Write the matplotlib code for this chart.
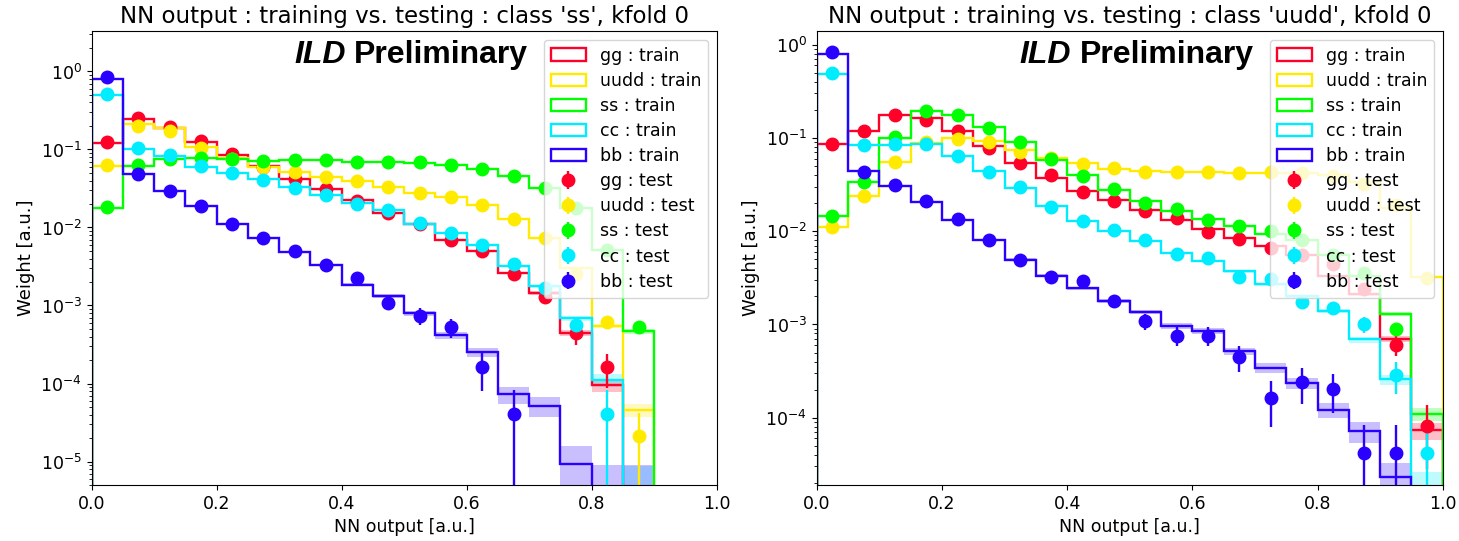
import numpy as np
import matplotlib
matplotlib.use('Agg')
import matplotlib.pyplot as plt

nan = np.nan
edges = np.linspace(0.0, 1.0, 21)
centers = 0.5 * (edges[:-1] + edges[1:])
classes = ['gg', 'uudd', 'ss', 'cc', 'bb']

# ---------------- left panel: class 'ss' ----------------
gg_train_L = [0.122, 0.243, 0.188, 0.124, 0.085, 0.062, 0.042, 0.031, 0.0226, 0.0155, 0.0112, 0.0069, 0.0050, 0.0026, 0.00145, 0.00044, 9.5e-5, 0, 0, 0]
gg_test_L = [0.125, 0.25, 0.195, 0.128, 0.087, 0.060, 0.042, 0.031, 0.022, 0.0152, 0.0110, 0.0069, 0.0050, 0.0025, 0.0013, 0.00044, 0.000164, nan, nan, nan]
uudd_train_L = [0.062, 0.209, 0.186, 0.107, 0.078, 0.060, 0.051, 0.045, 0.040, 0.033, 0.028, 0.0243, 0.0193, 0.0128, 0.0074, 0.0030, 0.00055, 4.6e-5, 0, 0]
uudd_test_L = [0.063, 0.200, 0.175, 0.105, 0.076, 0.059, 0.051, 0.045, 0.040, 0.033, 0.028, 0.0243, 0.0193, 0.0128, 0.0074, 0.0025, 0.00062, 2.1e-5, nan, nan]
ss_train_L = [0.018, 0.062, 0.076, 0.077, 0.0756, 0.072, 0.0734, 0.0734, 0.0698, 0.0686, 0.0675, 0.064, 0.056, 0.046, 0.0320, 0.0177, 0.0052, 0.00047, 0, 0]
ss_test_L = [0.0184, 0.064, 0.075, 0.077, 0.0756, 0.072, 0.0734, 0.0734, 0.0698, 0.0686, 0.0686, 0.064, 0.056, 0.046, 0.0317, 0.0177, 0.0052, 0.00053, nan, nan]
cc_train_L = [0.495, 0.102, 0.083, 0.060, 0.050, 0.042, 0.033, 0.0262, 0.0203, 0.0168, 0.0112, 0.0086, 0.0059, 0.0032, 0.00176, 0.00069, 0.00011, 4.6e-6, 0, 0]
cc_test_L = [0.51, 0.104, 0.086, 0.061, 0.0505, 0.041, 0.032, 0.026, 0.020, 0.0168, 0.0113, 0.0086, 0.0060, 0.0034, 0.00168, 0.00057, 4.1e-5, nan, nan, nan]
bb_train_L = [0.81, 0.048, 0.029, 0.019, 0.0112, 0.0074, 0.0049, 0.0033, 0.00185, 0.00131, 0.00079, 0.00042, 0.00025, 7.3e-5, 5.2e-5, 9.3e-6, 4.6e-6, 4.6e-6, 0, 0]
bb_test_L = [0.85, 0.048, 0.029, 0.019, 0.0112, 0.0074, 0.0050, 0.0033, 0.00226, 0.00108, 0.00074, 0.00053, 0.000164, 4.1e-5, nan, nan, nan, nan, nan, nan]

# ---------------- right panel: class 'uudd' ----------------
gg_train_R = [0.0863, 0.118, 0.175, 0.164, 0.120, 0.0813, 0.054, 0.0373, 0.0268, 0.0218, 0.0170, 0.0133, 0.0106, 0.0085, 0.0069, 0.0055, 0.0033, 0.0021, 0.0007, 7.3e-5]
gg_test_R = [0.0863, 0.120, 0.175, 0.157, 0.120, 0.078, 0.054, 0.0398, 0.026, 0.0212, 0.0164, 0.0139, 0.0097, 0.0083, 0.0066, 0.0055, 0.0045, 0.0024, 0.0006, 8.2e-5]
uudd_train_R = [0.0111, 0.0237, 0.0548, 0.0883, 0.100, 0.0926, 0.075, 0.061, 0.054, 0.0465, 0.0439, 0.043, 0.043, 0.042, 0.042, 0.042, 0.040, 0.034, 0.0178, 0.0032]
uudd_test_R = [0.0111, 0.0237, 0.0548, 0.091, 0.097, 0.091, 0.071, 0.061, 0.053, 0.047, 0.0428, 0.0428, 0.0428, 0.042, 0.043, 0.042, 0.039, 0.032, 0.0193, 0.00316]
ss_train_R = [0.0144, 0.0337, 0.100, 0.193, 0.178, 0.131, 0.0897, 0.0575, 0.0404, 0.0279, 0.0209, 0.0164, 0.0136, 0.0113, 0.0094, 0.0081, 0.0056, 0.0033, 0.0013, 0.00011]
ss_test_R = [0.0144, 0.034, 0.102, 0.193, 0.178, 0.128, 0.090, 0.060, 0.039, 0.0285, 0.0201, 0.0173, 0.0131, 0.0113, 0.0100, 0.0080, 0.0056, 0.0036, 0.0009, nan]
cc_train_R = [0.485, 0.0848, 0.0848, 0.085, 0.0635, 0.0439, 0.0291, 0.0185, 0.0128, 0.0100, 0.0078, 0.0058, 0.0048, 0.0037, 0.0027, 0.0020, 0.0014, 0.00069, 0.000257, 1.8e-5]
cc_test_R = [0.50, 0.083, 0.085, 0.085, 0.0635, 0.043, 0.0295, 0.018, 0.0128, 0.0104, 0.0080, 0.00575, 0.0052, 0.0032, 0.0031, 0.00175, 0.0015, 0.0010, 0.000286, 4.2e-5]
bb_train_R = [0.80, 0.0439, 0.0303, 0.0206, 0.0133, 0.0080, 0.00496, 0.00334, 0.00243, 0.00177, 0.00136, 0.00097, 0.00085, 0.000516, 0.000343, 0.000233, 0.000122, 7.2e-5, 2.3e-5, 0]
bb_test_R = [0.84, 0.043, 0.031, 0.021, 0.0135, 0.0081, 0.0049, 0.0032, 0.0029, 0.00179, 0.00108, 0.00076, 0.00076, 0.000449, 0.000163, 0.000242, 0.000204, 4.2e-5, 4.2e-5, nan]

# per-event weights (read from single-event bins) -> statistical errors sqrt(sum w^2)
train_event_weight = [3.3e-6, 1.8e-6, 2.8e-6, 4.0e-6, 4.4e-6]
test_event_weight = [3.5e-5, 2.1e-5, 1.5e-5, 4.0e-5, 4.2e-5]

panels = [
    dict(title="NN output : training vs. testing : class 'ss', kfold 0",
         train=[gg_train_L, uudd_train_L, ss_train_L, cc_train_L, bb_train_L],
         test=[gg_test_L, uudd_test_L, ss_test_L, cc_test_L, bb_test_L],
         ylim=(5.0e-6, 3.3), rect=[91.5, 716.7]),
    dict(title="NN output : training vs. testing : class 'uudd', kfold 0",
         train=[gg_train_R, uudd_train_R, ss_train_R, cc_train_R, bb_train_R],
         test=[gg_test_R, uudd_test_R, ss_test_R, cc_test_R, bb_test_R],
         ylim=(1.9e-5, 1.4), rect=[816.7, 1442.7]),
]

W, H = 1459, 541
fig = plt.figure(figsize=(W / 100, H / 100), dpi=100)
colors = [plt.cm.gist_rainbow(i / 5) for i in range(5)]
FS = 12.5

for p in panels:
    x0, x1 = p['rect']
    ax = fig.add_axes([x0 / W, 1 - 485 / H, (x1 - x0) / W, 454 / H])
    ax.set_yscale('log')
    handles_train, handles_test = [], []
    for i, cls in enumerate(classes):
        val = np.asarray(p['train'][i], dtype=float)
        _, _, patches = ax.hist(centers, bins=edges, weights=val, histtype='step',
                                color=colors[i], lw=1.7, label=f'{cls} : train')
        handles_train.append(patches[0])
        err = np.sqrt(val * train_event_weight[i])
        top = np.where(val > 0, val + err, 1e-12)
        low = np.where(val > 0, np.maximum(val - err, 1e-12), 1e-12)
        ax.stairs(top, edges, baseline=low, fill=True, color=colors[i], alpha=0.25, lw=0)
    for i, cls in enumerate(classes):
        tv = np.asarray(p['test'][i], dtype=float)
        terr = np.sqrt(tv * test_event_weight[i])
        lower = np.minimum(terr, tv * (1 - 1e-9))
        eb = ax.errorbar(centers, tv, yerr=[lower, terr], fmt='o', color=colors[i],
                         ms=9, elinewidth=1.7, capsize=0, label=f'{cls} : test')
        handles_test.append(eb)
    ax.set_xlim(0, 1)
    ax.set_ylim(*p['ylim'])
    ax.set_title(p['title'], fontsize=16.5)
    ax.set_xlabel('NN output [a.u.]', fontsize=FS)
    ax.set_ylabel('Weight [a.u.]', fontsize=13)
    ax.tick_params(labelsize=FS)
    hs = handles_train + handles_test
    ax.legend(hs, [h.get_label() for h in hs], loc='upper right', fontsize=FS,
              labelspacing=0.41)
    ax.text(0.4066, 0.929, 'ILD', transform=ax.transAxes, ha='right', va='baseline',
            fontsize=23, fontweight='bold', fontstyle='italic', family='Liberation Sans')
    ax.text(0.698, 0.929, 'Preliminary', transform=ax.transAxes, ha='right', va='baseline',
            fontsize=23, fontweight='bold', family='Liberation Sans')

fig.savefig('out.png', dpi=100)
